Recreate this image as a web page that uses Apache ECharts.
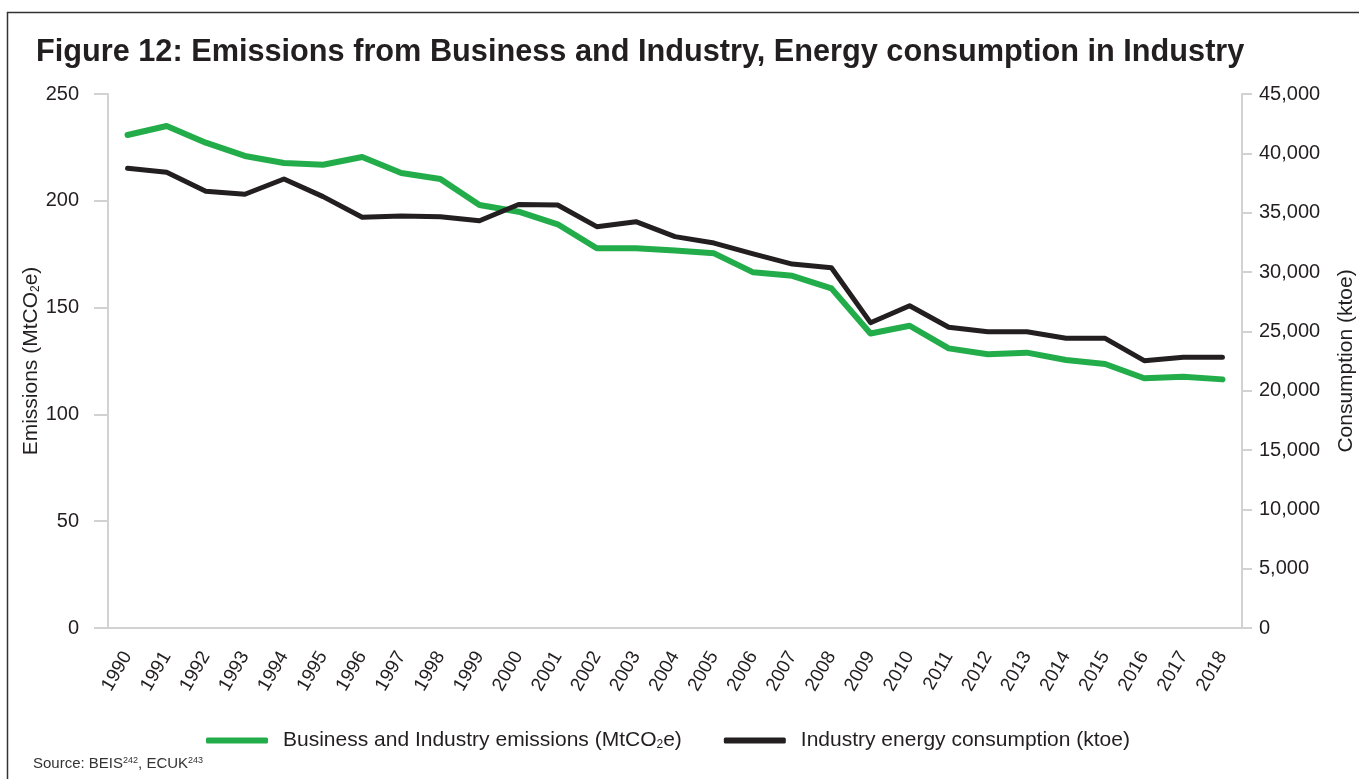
<!DOCTYPE html>
<html>
<head>
<meta charset="utf-8">
<script src="https://cdn.jsdelivr.net/npm/echarts@6/dist/echarts.min.js"></script>
<style>
  html, body { margin: 0; padding: 0; background: #fff; }
  #chart { width: 1359px; height: 779px; }
</style>
</head>
<body>
<div id="chart"></div>
<script>
const years = ['1990', '1991', '1992', '1993', '1994', '1995', '1996', '1997', '1998', '1999',
  '2000', '2001', '2002', '2003', '2004', '2005', '2006', '2007', '2008', '2009',
  '2010', '2011', '2012', '2013', '2014', '2015', '2016', '2017', '2018']

// MtCO2e, left axis
const emissions = [230.8, 235.0, 227.2, 221.0, 217.7, 216.9, 220.5, 213.0, 210.2, 198.0,
  194.9, 189.0, 177.8, 177.8, 176.7, 175.4, 166.5, 164.9, 159.0, 137.9,
  141.5, 130.9, 128.2, 128.9, 125.5, 123.6, 116.9, 117.6, 116.4]

// ktoe, right axis
const consumption = [38740, 38400, 36810, 36550, 37840, 36350, 34610, 34720, 34660, 34320,
  35690, 35650, 33820, 34240, 32980, 32440, 31520, 30670, 30360, 25730,
  27160, 25340, 24970, 24970, 24410, 24410, 22530, 22810, 22810]

const font = '"Liberation Sans", Arial, Helvetica, sans-serif'
const textColor = '#231f20'
const axisGrey = '#d2d2d2'
const green = '#22ad4a'
const black = '#231f20'

const chart = echarts.init(document.getElementById('chart'))

const subStyle = { fontSize: 12, verticalAlign: 'bottom', padding: [9, 0, 0, 0], fontFamily: font, color: textColor }

const option = {
  backgroundColor: '#fff',
  textStyle: { fontFamily: font, color: textColor },
  animation: false,
  title: {
    text: 'Figure 12: Emissions from Business and Industry, Energy consumption in Industry',
    left: 31,
    top: 32,
    textStyle: { fontFamily: font, fontSize: 30.7, fontWeight: 'bold', color: textColor }
  },
  graphic: [
    {
      type: 'rect',
      shape: { x: 7.5, y: 12.5, width: 1400, height: 820 },
      style: { fill: 'none', stroke: '#333', lineWidth: 1.5 },
      silent: true
    },
    {
      type: 'text',
      left: 33,
      top: 756,
      style: {
        text: 'Source: BEIS{sup|242}, ECUK{sup|243}',
        fontFamily: font,
        fontSize: 15,
        fill: '#333',
        rich: {
          sup: { fontSize: 9, verticalAlign: 'top', fill: '#333', fontFamily: font }
        }
      }
    }
  ],
  legend: {
    left: 201,
    top: 725,
    itemWidth: 62,
    itemHeight: 6,
    itemGap: 42,
    icon: 'roundRect',
    data: ['Business and Industry emissions (MtCO{sub|2}e)', 'Industry energy consumption (ktoe)'],
    textStyle: {
      fontFamily: font,
      fontSize: 21,
      color: textColor,
      padding: [0, 0, 0, 10],
      rich: { sub: subStyle }
    }
  },
  grid: { left: 108, right: 117, top: 94, bottom: 151, outerBoundsMode: 'none', containLabel: false },
  xAxis: {
    type: 'category',
    data: years,
    boundaryGap: true,
    axisLine: { lineStyle: { color: axisGrey, width: 2 } },
    axisTick: { alignWithLabel: true, length: 12, lineStyle: { color: axisGrey, width: 2 } },
    axisLabel: { rotate: 60, fontSize: 19, color: textColor, margin: 25, fontFamily: font, interval: 0 }
  },
  yAxis: [
    {
      type: 'value',
      min: 0,
      max: 250,
      interval: 50,
      name: 'Emissions (MtCO{sub|2}e)',
      nameLocation: 'middle',
      nameRotate: 90,
      nameGap: 66,
      nameMoveOverlap: false,
      nameTextStyle: {
        fontSize: 21,
        color: textColor,
        fontFamily: font,
        rich: { sub: subStyle }
      },
      splitLine: { show: false },
      axisLine: { show: true, lineStyle: { color: axisGrey, width: 2 } },
      axisTick: { show: true, length: 14, lineStyle: { color: axisGrey, width: 2 } },
      axisLabel: { fontSize: 20, color: textColor, margin: 29, fontFamily: font }
    },
    {
      type: 'value',
      min: 0,
      max: 45000,
      interval: 5000,
      position: 'right',
      name: 'Consumption (ktoe)',
      nameLocation: 'middle',
      nameRotate: 90,
      nameGap: 94,
      nameMoveOverlap: false,
      nameTextStyle: { fontSize: 21, color: textColor, fontFamily: font },
      splitLine: { show: false },
      axisLine: { show: true, lineStyle: { color: axisGrey, width: 2 } },
      axisTick: { show: true, length: 10, lineStyle: { color: axisGrey, width: 2 } },
      axisLabel: {
        fontSize: 20,
        color: textColor,
        margin: 17,
        fontFamily: font,
        formatter: v => v.toLocaleString('en-GB')
      }
    }
  ],
  series: [
    {
      name: 'Business and Industry emissions (MtCO{sub|2}e)',
      type: 'line',
      yAxisIndex: 0,
      data: emissions,
      showSymbol: false,
      symbol: 'none',
      lineStyle: { color: green, width: 6, join: 'round', cap: 'round' },
      itemStyle: { color: green }
    },
    {
      name: 'Industry energy consumption (ktoe)',
      type: 'line',
      yAxisIndex: 1,
      data: consumption,
      showSymbol: false,
      symbol: 'none',
      lineStyle: { color: black, width: 5, join: 'round', cap: 'round' },
      itemStyle: { color: black }
    }
  ]
}

chart.setOption(option)
window.addEventListener('resize', () => chart.resize())
</script>
</body>
</html>
